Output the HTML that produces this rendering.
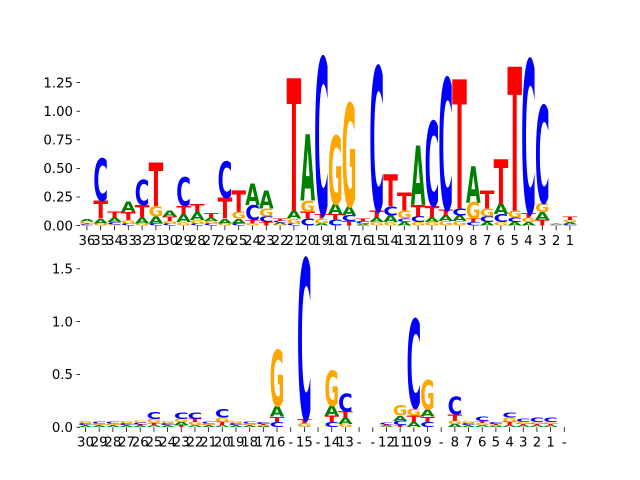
<!DOCTYPE html>
<html><head><meta charset="utf-8"><style>
html,body{margin:0;padding:0;background:#fff;}
svg{display:block;font-family:"DejaVu Sans","Liberation Sans",sans-serif;}
</style></head><body>
<svg id="chart" width="640" height="480" viewBox="0 0 640 480">
<g id="top"></g>
<g id="bot"></g>
</svg>
<script>
// Top panel data (order A, C, G, T)
const topLabels = ["36","35","34","33","32","31","30","29","28","27","26","25","24","23","22","21","20","19","18","17","16","15","14","13","12","11","10","9","8","7","6","5","4","3","2","1"];
const topA = [.02,.04,.04,.09,.05,.06,.05,.07,.07,.03,.04,.04,.19,.16,.015,.07,.58,.02,.09,.08,.01,.04,.06,.03,.52,.04,.05,.05,.32,.03,.09,.03,.03,.07,.005,.02];
const topC = [.01,.37,.02,.02,.22,.02,.02,.25,.02,.02,.32,.02,.13,.05,.015,.02,.06,1.37,.05,.05,.02,1.26,.08,.03,.05,.74,1.15,.06,.03,.05,.07,.04,1.34,.85,.005,.01];
const topG = [.015,.02,.01,.03,.02,.09,.02,.03,.03,.02,.02,.06,.02,.07,.01,.04,.10,.04,.60,.90,.01,.03,.03,.07,.03,.03,.04,.04,.14,.07,.03,.06,.04,.08,.005,.02];
const topT = [.01,.16,.05,.07,.11,.38,.04,.07,.07,.04,.18,.19,.03,.03,.02,1.16,.06,.04,.05,.04,.02,.06,.28,.16,.10,.10,.05,1.13,.03,.16,.39,1.26,.04,.05,.005,.03];
const topTicks = [0,0.25,0.5,0.75,1.0,1.25];
const topTickText = ["0.00","0.25","0.50","0.75","1.00","1.25"];

// Bottom panel data
const botLabels = ["30","29","28","27","26","25","24","23","22","21","20","19","18","17","16","-","15","-","14","13","-","-","12","11","10","9","-","8","7","6","5","4","3","2","1","-"];
const botA = [.01,.01,.01,.01,.01,.02,.01,.03,.02,.01,.02,.01,.01,.01,.10,0,.005,0,.09,.06,0,0,.01,.05,.05,.07,0,.03,.01,.02,.01,.02,.015,.015,.015,0];
const botC = [.02,.02,.02,.02,.02,.07,.02,.06,.06,.02,.08,.02,.02,.015,.05,0,1.52,0,.05,.17,0,0,.02,.04,.84,.05,0,.17,.02,.04,.015,.05,.03,.04,.04,0];
const botG = [.02,.015,.015,.02,.02,.04,.02,.03,.03,.015,.04,.02,.015,.01,.53,0,.03,0,.33,.03,0,0,.005,.10,.07,.28,0,.03,.02,.02,.01,.04,.02,.02,.02,0];
const botT = [.01,.01,.01,.01,.015,.02,.01,.02,.03,.01,.03,.01,.01,.01,.05,0,.04,0,.06,.06,0,0,.01,.02,.06,.05,0,.06,.01,.02,.01,.03,.015,.015,.015,0];
const botTicks = [0,0.5,1.0,1.5];
const botTickText = ["0.0","0.5","1.0","1.5"];

const NS = "http://www.w3.org/2000/svg";
const colors = {A:"#008000",C:"#0000ff",G:"#ffa500",T:"#ff0000"};

function panel(g, cfg){
  const yS = v => cfg.y0 - v*cfg.pxPerUnit;
  const xS = i => cfg.x0 + i*cfg.step;
  cfg.ticks.forEach((t,k)=>{
    const y = yS(t);
    const ln = document.createElementNS(NS,"line");
    ln.setAttribute("x1",76.5); ln.setAttribute("x2",80); ln.setAttribute("y1",y); ln.setAttribute("y2",y);
    ln.setAttribute("stroke","#000"); ln.setAttribute("stroke-width","0.8");
    
    
    g.appendChild(ln);
    const tx = document.createElementNS(NS,"text");
    tx.setAttribute("x",73); tx.setAttribute("y",y+4.7); tx.setAttribute("text-anchor","end");
    tx.setAttribute("font-size","13.3"); tx.textContent = cfg.tickText[k];
    
    
    g.appendChild(tx);
  });
  cfg.labels.forEach((lab,i)=>{
    const x = xS(i);
    const ln = document.createElementNS(NS,"line");
    ln.setAttribute("x1",x); ln.setAttribute("x2",x); ln.setAttribute("y1",cfg.y0); ln.setAttribute("y2",cfg.y0+4.7);
    ln.setAttribute("stroke","#000"); ln.setAttribute("stroke-width","0.8");
    
    
    g.appendChild(ln);
    const tx = document.createElementNS(NS,"text");
    tx.setAttribute("x",x); tx.setAttribute("y",cfg.y0+19.5); tx.setAttribute("text-anchor","middle");
    tx.setAttribute("font-size","13.3"); tx.textContent = lab;
    
    
    g.appendChild(tx);
    const items = [["A",cfg.A[i]],["C",cfg.C[i]],["G",cfg.G[i]],["T",cfg.T[i]]].filter(d=>d[1]>0).sort((a,b)=>a[1]-b[1]);
    let acc = 0;
    const w = cfg.step*1.06;
    items.forEach(([L,v])=>{
      const yb = yS(acc);
      const h = v*cfg.pxPerUnit;
      acc += v;
      const t = document.createElementNS(NS,"text");
      t.setAttribute("x",0); t.setAttribute("y",0);
      t.setAttribute("font-size","100"); t.setAttribute("font-weight","bold");
      t.setAttribute("textLength", w.toFixed(2)); t.setAttribute("lengthAdjust","spacingAndGlyphs");
      t.setAttribute("fill",colors[L]);
      t.setAttribute("transform",`translate(${(x-w/2).toFixed(2)},${yb.toFixed(2)}) scale(1,${(h/73).toFixed(5)})`);
      t.textContent = L;
      
      
      g.appendChild(t);
    });
  });
}
panel(document.getElementById("top"),{y0:225.6,pxPerUnit:114.4,x0:86.9,step:13.8,labels:topLabels,A:topA,C:topC,G:topG,T:topT,ticks:topTicks,tickText:topTickText});
panel(document.getElementById("bot"),{y0:427.2,pxPerUnit:105.6,x0:85.5,step:13.68,labels:botLabels,A:botA,C:botC,G:botG,T:botT,ticks:botTicks,tickText:botTickText});
</script>
</body></html>
